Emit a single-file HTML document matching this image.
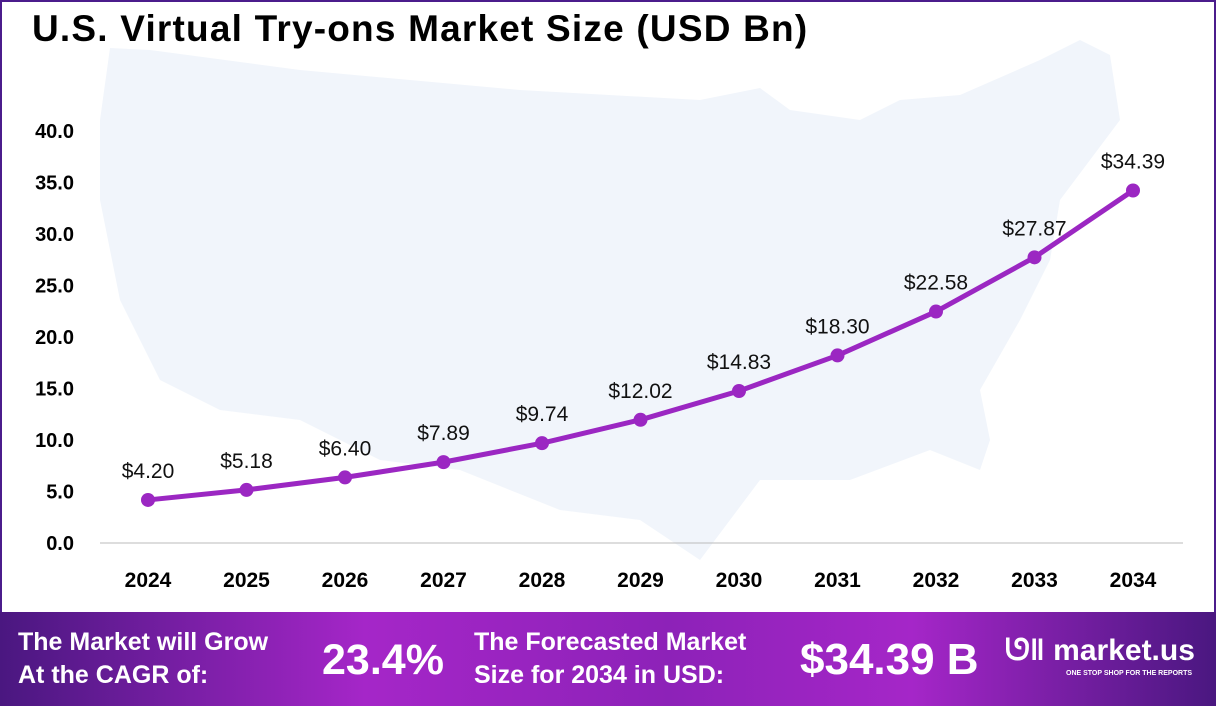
<!DOCTYPE html>
<html><head><meta charset="utf-8"><style>
body{margin:0;width:1216px;height:706px;overflow:hidden;font-family:"Liberation Sans",sans-serif;background:#fff}
#frame{position:absolute;left:0;top:0;width:1212px;height:702px;border:2px solid #4b1c8c;border-bottom:none;}
#title{position:absolute;left:32px;top:8px;font-size:37px;font-weight:bold;color:#000;letter-spacing:1.2px}
#banner{position:absolute;left:0;top:612px;width:1216px;height:94px;background:linear-gradient(90deg,#4a1780 0%,#a526c8 30%,#8d22b8 55%,#a526c8 75%,#4a1780 100%)}
.bt{position:absolute;color:#fff;font-weight:bold;white-space:nowrap}
</style></head><body>
<div id="frame"></div>
<div id="title">U.S. Virtual Try-ons Market Size (USD Bn)</div>
<svg id="chart" width="1216" height="612" style="position:absolute;left:0;top:0">
<polygon fill="#f1f5fb" points="110,48 150,50 300,70 520,90 700,100 760,88 790,110 860,120 900,100 960,95 1040,60 1080,40 1110,55 1120,120 1090,160 1060,200 1050,260 1020,320 980,390 990,440 980,470 930,450 850,480 760,480 700,560 640,520 560,510 460,470 380,460 300,420 220,410 160,380 120,300 100,200 100,120"/>
<g id="axes"></g><g id="marks"></g>
</svg>
<div id="banner">
<div class="bt" style="left:18px;top:14px;font-size:25px;line-height:33px">The Market will Grow<br>At the CAGR of:</div>
<div class="bt" style="left:322px;top:24px;font-size:43px">23.4%</div>
<div class="bt" style="left:474px;top:14px;font-size:25px;line-height:33px">The Forecasted Market<br>Size for 2034 in USD:</div>
<div class="bt" style="left:800px;top:23px;font-size:44px">$34.39 B</div>
<div class="bt" style="left:1005px;top:22px;font-size:30px">ᘎ‖ market.us</div>
<div class="bt" style="left:1066px;top:58px;font-size:7px">ONE STOP SHOP FOR THE REPORTS</div>
</div>
<script>
const years=["2024","2025","2026","2027","2028","2029","2030","2031","2032","2033","2034"];
const values=[4.20,5.18,6.40,7.89,9.74,12.02,14.83,18.30,22.58,27.87,34.39];
const yTicks=["0.0","5.0","10.0","15.0","20.0","25.0","30.0","35.0","40.0"];
const NS="http://www.w3.org/2000/svg";
const x=i=>148+i*98.5, y=v=>543-v*10.3, yv=v=>543-v*10.25;
const ax=document.getElementById('axes'),mk=document.getElementById('marks');
function el(t,a,p){const e=document.createElementNS(NS,t);for(const k in a)e.setAttribute(k,a[k]);p.appendChild(e);return e;}
const base=el('line',{x1:100,x2:1183,y1:543,y2:543,stroke:'#bbb','stroke-width':1},ax);


yTicks.forEach(t=>{const e=el('text',{x:74,y:y(+t)+7,'text-anchor':'end','font-size':20,'font-weight':'bold',fill:'#000'},ax);e.textContent=t;

});
years.forEach((t,i)=>{const e=el('text',{x:x(i),y:587,'text-anchor':'middle','font-size':21,'font-weight':'bold',fill:'#000'},ax);e.textContent=t;

});
const line=el('polyline',{points:values.map((v,i)=>x(i)+','+yv(v)).join(' '),fill:'none',stroke:'#9b27c2','stroke-width':5,'stroke-linejoin':'round'},mk);


values.forEach((v,i)=>{const c=el('circle',{cx:x(i),cy:yv(v),r:7,fill:'#9b27c2'},mk);


const t=el('text',{x:x(i),y:yv(v)-22,'text-anchor':'middle','font-size':21,fill:'#111'},mk);t.textContent='$'+v.toFixed(2);

});
</script>
</body></html>
